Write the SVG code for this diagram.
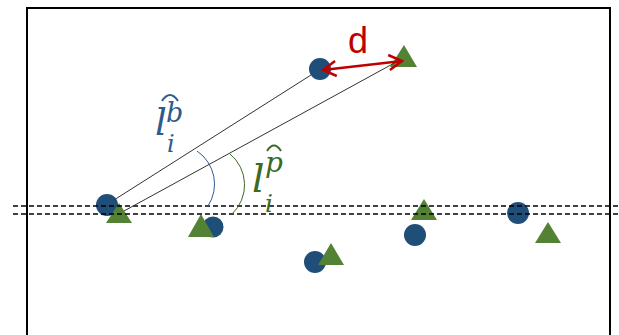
<svg xmlns="http://www.w3.org/2000/svg" width="619" height="335" viewBox="0 0 619 335">
<defs>
<style>
.c{fill:#1f4e79}
.t{fill:#548235}
.ln{stroke:#333;stroke-width:1;fill:none}
.dash{stroke:#000;stroke-width:1.3;stroke-dasharray:5 3;fill:none}
.mb{font-family:"DejaVu Serif",serif;font-style:italic;fill:#2e5b8c}
.mg{font-family:"DejaVu Serif",serif;font-style:italic;fill:#3b6a22}
</style>
<marker id="ah" viewBox="0 0 20 20" refX="17" refY="10" markerWidth="20" markerHeight="20" markerUnits="userSpaceOnUse" orient="auto-start-reverse">
<path d="M4,2.5 L17,10 L4,17.5" fill="none" stroke="#c00000" stroke-width="2.5"/>
</marker>
</defs>
<rect width="619" height="335" fill="#fff"/>
<rect x="27" y="8" width="583" height="340" fill="none" stroke="#000" stroke-width="2"/>
<g id="node-b1"><circle class="c" cx="107" cy="205" r="11"/></g>
<g id="node-p1"><polygon class="t" points="119,203 132,223 106,223"/></g>
<g id="node-b2"><circle class="c" cx="320" cy="69" r="11"/></g>
<g id="node-p2"><polygon class="t" points="404,45 417,67 390,67"/></g>
<g id="node-b3"><circle class="c" cx="213" cy="227" r="10.5"/></g>
<g id="node-p3"><polygon class="t" points="201,214 214,237 188,237"/></g>
<g id="node-b4"><circle class="c" cx="315" cy="262" r="11"/></g>
<g id="node-p4"><polygon class="t" points="331,243 344,265 318,265"/></g>
<g id="node-b5"><circle class="c" cx="415" cy="235" r="11"/></g>
<g id="node-p5"><polygon class="t" points="424,199 437,220 411,220"/></g>
<g id="node-b6"><circle class="c" cx="518" cy="213" r="11"/></g>
<g id="node-p6"><polygon class="t" points="548,222 561,243 535,243"/></g>
<g id="connectors">
<line class="dash" x1="13" y1="206" x2="619" y2="206"/>
<line class="dash" x1="13" y1="214" x2="619" y2="214"/>
<line class="ln" x1="114" y1="200" x2="311" y2="75"/>
<line class="ln" x1="124" y1="211" x2="398" y2="61"/>
<path d="M197,151 A40,40 0 0 1 208,206" fill="none" stroke="#2e5b8c" stroke-width="1"/>
<path d="M230,154 A40,40 0 0 1 232,214" fill="none" stroke="#3b6a22" stroke-width="1"/>
<line x1="323" y1="70" x2="402" y2="61" stroke="#c00000" stroke-width="2.5" marker-start="url(#ah)" marker-end="url(#ah)"/>
</g>
<g id="label-d"><text x="348" y="53" font-family="Liberation Sans, Arial, sans-serif" font-size="36" fill="#c00000">d</text></g>
<g id="label-lb">
<text class="mb" x="155" y="135" font-size="37">l</text>
<text class="mb" x="166" y="122" font-size="27">b</text>
<text class="mb" x="167" y="152" font-size="24">i</text>
<path d="M162,101 Q170,89 178,101" fill="none" stroke="#2e5b8c" stroke-width="2"/>
</g>
<g id="label-lp">
<text class="mg" x="252" y="192" font-size="39">l</text>
<text class="mg" x="265" y="172" font-size="28">p</text>
<text class="mg" x="265" y="212" font-size="25">i</text>
<path d="M267,151 Q274,140 281,151" fill="none" stroke="#3b6a22" stroke-width="2"/>
</g>
</svg>
